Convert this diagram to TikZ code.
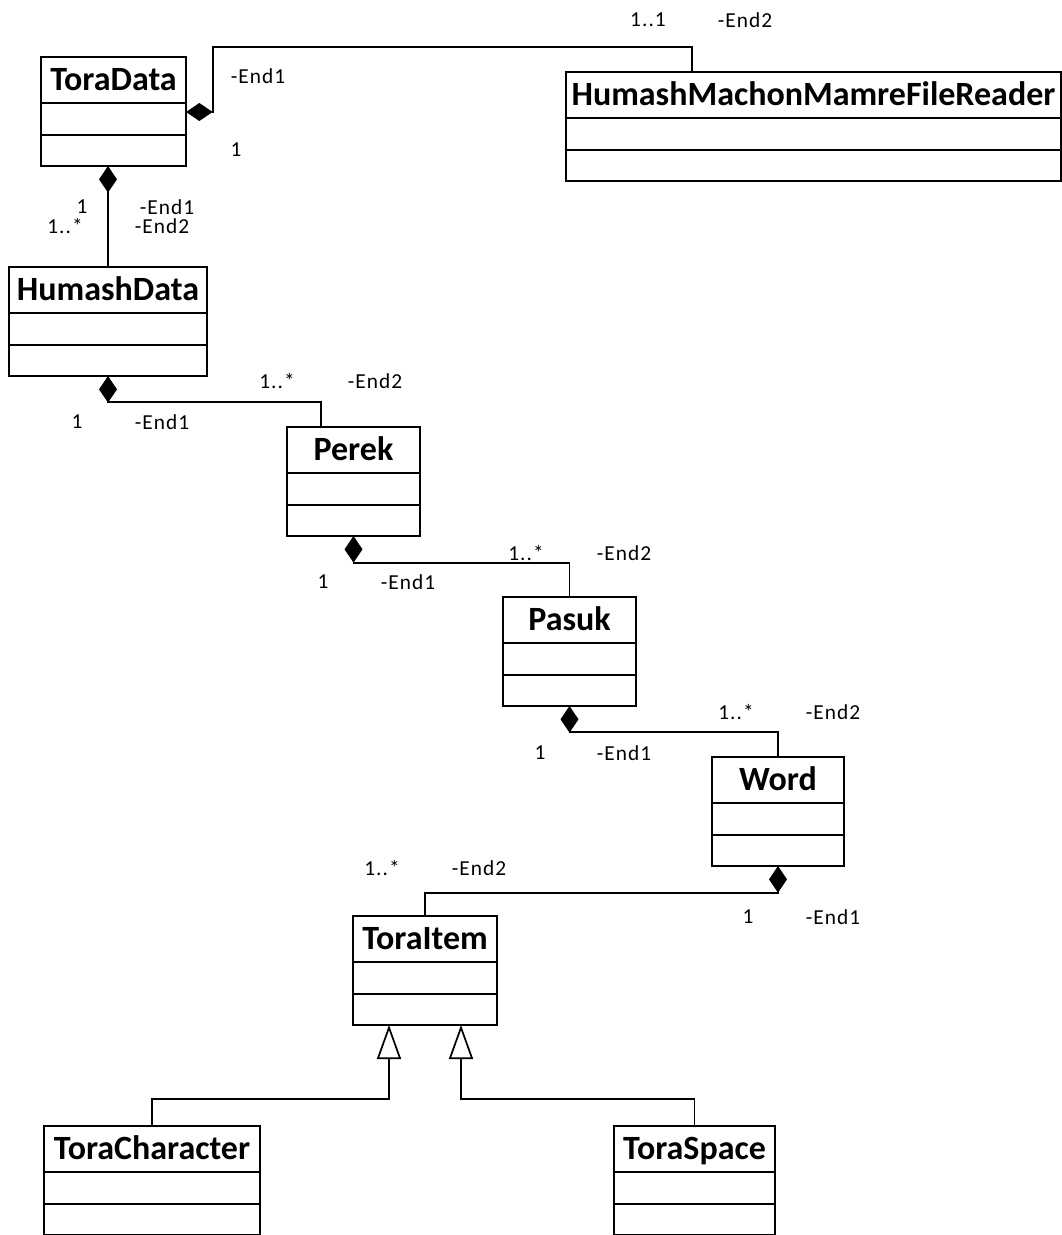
\documentclass[tikz,border=0pt]{standalone}
\usepackage{fontspec}
\setmainfont{Carlito}
\newfontfamily\lblfont{Carlito}[LetterSpace=5]
\usepackage{tikz}
\usetikzlibrary{arrows.meta,calc}
\newlength\pxu
\setlength\pxu{0.75pt}
\tikzset{
  classname/.style={draw, line width=1.4pt, inner sep=0pt, outer sep=0pt, minimum height=46\pxu, text height=17.4pt, text depth=1pt, font=\fontsize{25.5}{30}\selectfont\bfseries},
  classpart/.style={draw, line width=1.4pt, inner sep=0pt, outer sep=0pt},
  comp/.style={line width=1.3pt, -{Diamond[length=20pt,width=13.5pt]}},
  gen/.style={line width=1.3pt, -{Triangle[open,length=25.5pt,width=18pt]}},
  lbl/.style={inner sep=0pt, font=\lblfont\fontsize{16}{19}\selectfont}}

\begin{document}
\begin{tikzpicture}[x=0.75pt,y=-0.75pt]
\useasboundingbox (0,0) rectangle (1062,1235);

\foreach \nm/\x/\y/\bw/\cname in {tdata/41/57/145/ToraData, hmfr/566/72/495/HumashMachonMamreFileReader, hdata/9/267/198/HumashData, perek/287/427/133/Perek, pasuk/503/597/133/Pasuk, word/712/757/132/Word, titem/353/916/144/ToraItem, tchar/44/1126/216/ToraCharacter, tspace/614/1126/161/ToraSpace}{
  \node[classname, minimum width=\bw\pxu, anchor=north west] (\nm) at (\x,\y) {\cname};
  \node[classpart, minimum width=\bw\pxu, minimum height=32\pxu, anchor=north] (\nm-a) at (\nm.south) {};
  \node[classpart, minimum width=\bw\pxu, minimum height=31\pxu, anchor=north] (\nm-o) at (\nm-a.south) {};
}

\coordinate (tdataR) at ($(tdata.south east)+(0,9)$);
\coordinate (hmfrT) at ($(hmfr.north west)+(126,0)$);
\coordinate (perekT) at ($(perek.north west)+(34,0)$);
\draw[comp] (hmfrT) |- ($(tdataR)+(27,-65)$) |- (tdataR);
\draw[comp] (hdata.north) -- (hdata.north |- tdata-o.south);
\draw[comp] (perekT) |- ($(hdata-o.south)+(0,26)$) -- (hdata-o.south);
\draw[comp] (pasuk.north) |- ($(perek-o.south)+(0,27)$) -- (perek-o.south);
\draw[comp] (word.north) |- ($(pasuk-o.south)+(0,26)$) -- (pasuk-o.south);
\draw[comp] (titem.north) |- ($(word-o.south)+(0,27)$) -- (word-o.south);

\coordinate (genL) at ($(titem-o.south west)!0.25!(titem-o.south east)$);
\coordinate (genR) at ($(titem-o.south west)!0.75!(titem-o.south east)$);
\draw[gen] (tchar.north) |- ($(genL)+(0,74)$) -- (genL);
\draw[gen] (tspace.north) |- ($(genR)+(0,74)$) -- (genR);

\node[lbl] (m1a) at (648,20) {1..1};
\node[lbl] (e1a) at (745,20) {-End2};
\node[lbl] (e1b) at (258,76) {-End1};
\node[lbl] (m1b) at (236,150) {1};

\node[lbl] (m2b) at (82,207) {1};
\node[lbl] (m2a) at (65,226) {1..*};
\node[lbl] (e2b) at (167,207) {-End1};
\node[lbl] (e2a) at (162,226) {-End2};

\node[lbl] (m3a) at (277,381) {1..*};
\node[lbl] (e3a) at (375,381) {-End2};
\node[lbl] (m3b) at (77,422) {1};
\node[lbl] (e3b) at (162,422) {-End1};

\node[lbl] (m4a) at (526,553) {1..*};
\node[lbl] (e4a) at (624,553) {-End2};
\node[lbl] (m4b) at (323,582) {1};
\node[lbl] (e4b) at (408,582) {-End1};

\node[lbl] (m5a) at (736,712) {1..*};
\node[lbl] (e5a) at (833,712) {-End2};
\node[lbl] (m5b) at (540,753) {1};
\node[lbl] (e5b) at (624,753) {-End1};

\node[lbl] (m6a) at (382,868) {1..*};
\node[lbl] (e6a) at (479,868) {-End2};
\node[lbl] (m6b) at (748,917) {1};
\node[lbl] (e6b) at (833,917) {-End1};
\end{tikzpicture}
\end{document}
